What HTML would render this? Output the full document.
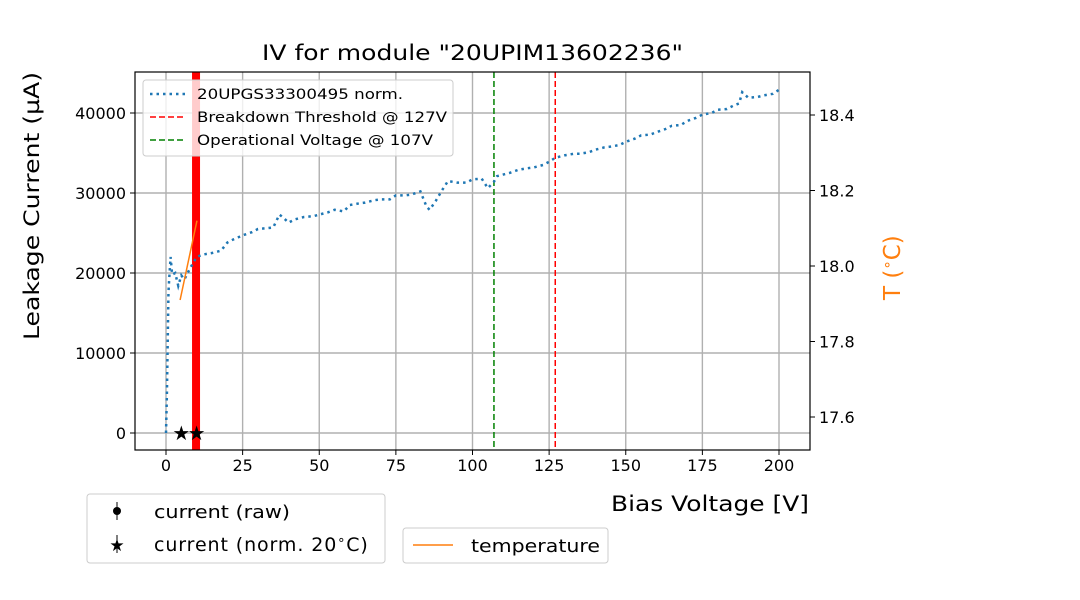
<!DOCTYPE html>
<html><head><meta charset="utf-8"><style>body{margin:0;background:#fff}svg{display:block;font-family:"DejaVu Sans","Liberation Sans",sans-serif}</style></head>
<body>
<svg id="c" width="1080" height="600"></svg>
<script>
const volts=[0,0.3,0.5,0.8,1,1.5,2,3,4,5,6,8,10,12,15,18,20,22,25,28,30,33,35,37,38,40,42,45,48,50,53,55,58,60,63,65,68,70,73,75,78,80,83,85,86,88,90,92,95,98,100,103,105,107,108,110,112,115,118,120,123,125,127,130,133,135,138,140,143,145,148,150,153,155,158,160,163,165,168,170,173,175,178,180,183,185,187,188,190,193,195,198,200];
const current=[0,5000,10000,17500,19000,22000,19800,20000,18400,19700,19200,20700,22000,22300,22500,22800,23800,24200,24700,25100,25500,25600,25700,27300,27000,26300,26700,27000,27100,27300,27600,27900,27700,28500,28700,28800,29100,29200,29200,29700,29700,29800,30200,28300,27900,29000,30300,31500,31300,31300,31700,31800,30600,31400,32100,32300,32500,32900,33100,33200,33500,33900,34400,34700,34900,34900,35100,35400,35700,35800,36000,36400,36800,37200,37300,37600,38000,38400,38500,39000,39400,39800,40000,40400,40500,40900,41200,42600,41900,42000,42200,42400,42900];
const tempV=[4.6,10.1];
const tempT=[17.91,18.12];
const starV=[5,10];
const starI=[0,0];
const xTicks=[0,25,50,75,100,125,150,175,200];
const yTicks=[0,10000,20000,30000,40000];
const tTicks=[17.6,17.8,18.0,18.2,18.4];
const breakdownV=127, operationalV=107, redBandV=9.8;

const X=v=>166+v*3.065, Y=i=>433-i*0.008, YT=t=>115+(18.4-t)*377.5;
const L=135,R=810,T=72,B=450;
const svg=document.getElementById('c');const NS='http://www.w3.org/2000/svg';
function el(tag,a,txt){const e=document.createElementNS(NS,tag);for(const k in a)e.setAttribute(k,a[k]);if(txt!==undefined)e.textContent=txt;svg.appendChild(e);return e;}
xTicks.forEach(v=>{const g=el('line',{x1:X(v),x2:X(v),y1:T,y2:B,stroke:'#b0b0b0','stroke-width':1.4});


el('line',{x1:X(v),x2:X(v),y1:B,y2:B+5,stroke:'#000'});
const t=el('text',{x:X(v),y:B+21,'font-size':16,'text-anchor':'middle'},v);

});
yTicks.forEach(v=>{const g=el('line',{x1:L,x2:R,y1:Y(v),y2:Y(v),stroke:'#b0b0b0','stroke-width':1.4});


el('line',{x1:L-5,x2:L,y1:Y(v),y2:Y(v),stroke:'#000'});
const t=el('text',{x:L-9,y:Y(v)+6,'font-size':16,'text-anchor':'end'},v);

});
tTicks.forEach(v=>{el('line',{x1:R,x2:R+5,y1:YT(v),y2:YT(v),stroke:'#000'});
const t=el('text',{x:R+9,y:YT(v)+6,'font-size':16},v.toFixed(1));

});
let r=el('rect',{x:X(redBandV)-4,y:T,width:8,height:B-T,fill:'#ff0000'});


let l=el('line',{x1:X(operationalV),x2:X(operationalV),y1:T,y2:B,stroke:'green','stroke-width':1.5,'stroke-dasharray':'6,3'});


l=el('line',{x1:X(breakdownV),x2:X(breakdownV),y1:T,y2:B,stroke:'red','stroke-width':1.5,'stroke-dasharray':'6,3'});


let p=el('polyline',{points:volts.map((v,i)=>X(v)+','+Y(current[i])).join(' '),fill:'none',stroke:'#1f77b4','stroke-width':2.5,'stroke-dasharray':'2.5,4'});


p=el('polyline',{points:tempV.map((v,i)=>X(v)+','+YT(tempT[i])).join(' '),fill:'none',stroke:'#ff7f0e','stroke-width':1.5});


starV.forEach((v,i)=>{const s=el('text',{x:X(v),y:Y(starI[i])+7,'font-size':20,'text-anchor':'middle'},'★');

});
el('rect',{x:L,y:T,width:R-L,height:B-T,fill:'none',stroke:'#000','stroke-width':1.2});
</script>
<script>
const s=document.getElementById('c');
s.insertAdjacentHTML('beforeend',`
<text x="262" y="60" font-size="21" textLength="421" lengthAdjust="spacingAndGlyphs">IV for module "20UPIM13602236"</text>
<text x="0" y="0" font-size="21" textLength="268" lengthAdjust="spacingAndGlyphs" transform="translate(39,340) rotate(-90)">Leakage Current (µA)</text>
<text x="0" y="0" font-size="23" fill="#ff7f0e" transform="translate(900,300) rotate(-90)">T (<tspan font-size="15" dy="-8">∘</tspan><tspan dy="8">C)</tspan></text>
<text x="611" y="511" font-size="21" textLength="198" lengthAdjust="spacingAndGlyphs">Bias Voltage [V]</text>
<g>
<rect x="143" y="80" width="310" height="76" rx="3" fill="#fff" fill-opacity="0.8" stroke="#ccc"/>
<line x1="150" y1="94" x2="186" y2="94" stroke="#1f77b4" stroke-width="2.5" stroke-dasharray="2.5,4"/>
<text x="197" y="99" font-size="14" textLength="206" lengthAdjust="spacingAndGlyphs">20UPGS33300495 norm.</text>
<line x1="150" y1="117" x2="186" y2="117" stroke="red" stroke-width="1.5" stroke-dasharray="6,3"/>
<text x="197" y="122" font-size="14" textLength="250" lengthAdjust="spacingAndGlyphs">Breakdown Threshold @ 127V</text>
<line x1="150" y1="140" x2="186" y2="140" stroke="green" stroke-width="1.5" stroke-dasharray="6,3"/>
<text x="197" y="145" font-size="14" textLength="236" lengthAdjust="spacingAndGlyphs">Operational Voltage @ 107V</text>
</g>
<g>
<rect x="87" y="494" width="298" height="69" rx="3" fill="#fff" stroke="#ccc"/>
<line x1="117" y1="502" x2="117" y2="520" stroke="#000"/><circle cx="117" cy="511" r="4"/>
<text x="154" y="518" font-size="18" textLength="136" lengthAdjust="spacingAndGlyphs">current (raw)</text>
<line x1="117" y1="535" x2="117" y2="553" stroke="#000"/><text x="117" y="551" font-size="17" text-anchor="middle">★</text>
<text x="154" y="551" font-size="19" letter-spacing="0.9">current (norm. 20<tspan font-size="13" dy="-7">∘</tspan><tspan dy="7">C)</tspan></text>
</g>
<g>
<rect x="403" y="528" width="205" height="35" rx="3" fill="#fff" stroke="#ccc"/>
<line x1="413" y1="545" x2="453" y2="545" stroke="#ff7f0e" stroke-width="1.5"/>
<text x="471" y="552" font-size="18" textLength="129" lengthAdjust="spacingAndGlyphs">temperature</text>
</g>`);
</script>
</body></html>
